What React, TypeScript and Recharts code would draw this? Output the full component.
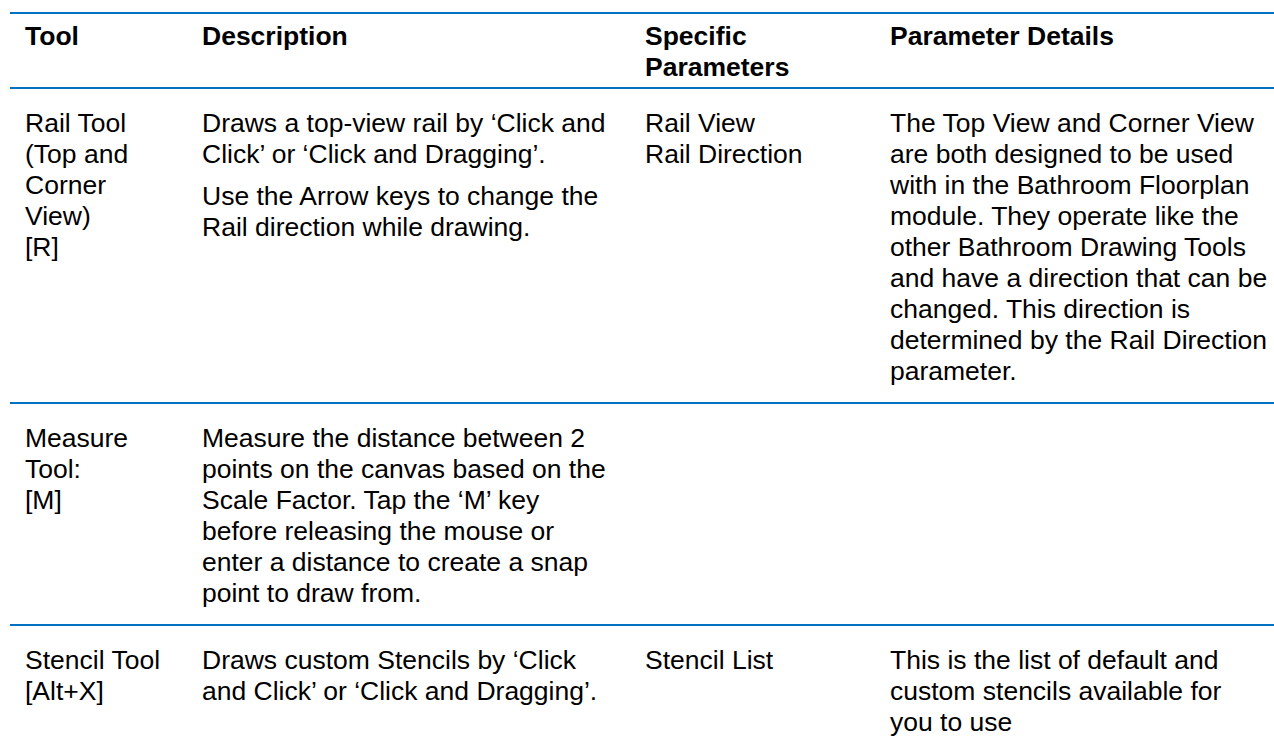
import React from "react";
import { ScatterChart, Scatter, XAxis, YAxis, ReferenceLine } from "recharts";

// table content, one entry per row; each cell is a list of paragraphs, each paragraph a list of lines
const headerCells = [["Tool"], ["Description"], ["Specific", "Parameters"], ["Parameter Details"]];

const toolCells = [
  [["Rail Tool", "(Top and", "Corner", "View)", "[R]"]],
  [["Measure", "Tool:", "[M]"]],
  [["Stencil Tool", "[Alt+X]"]],
];

const descriptionCells = [
  [
    ["Draws a top-view rail by \u2018Click and", "Click\u2019 or \u2018Click and Dragging\u2019."],
    ["Use the Arrow keys to change the", "Rail direction while drawing."],
  ],
  [
    [
      "Measure the distance between 2",
      "points on the canvas based on the",
      "Scale Factor. Tap the \u2018M\u2019 key",
      "before releasing the mouse or",
      "enter a distance to create a snap",
      "point to draw from.",
    ],
  ],
  [["Draws custom Stencils by \u2018Click", "and Click\u2019 or \u2018Click and Dragging\u2019."]],
];

const parameterCells = [[["Rail View", "Rail Direction"]], [], [["Stencil List"]]];

const detailCells = [
  [
    [
      "The Top View and Corner View",
      "are both designed to be used",
      "with in the Bathroom Floorplan",
      "module. They operate like the",
      "other Bathroom Drawing Tools",
      "and have a direction that can be",
      "changed. This direction is",
      "determined by the Rail Direction",
      "parameter.",
    ],
  ],
  [],
  [["This is the list of default and", "custom stencils available for", "you to use"]],
];

const W = 1274;
const H = 749;
const colX = [25, 202, 645, 890];
const lineH = 31;
const paraGap = 11;
const ruleColor = "#0070C0";
const font = "'Liberation Sans', Arial, Helvetica, sans-serif";

type Pt = { x: number; y: number; text: string; bold: boolean };

function cellPoints(paras: string[][], col: number, first: number, bold: boolean, out: Pt[]) {
  let y = first;
  let last = first;
  paras.forEach((lines, pi) => {
    if (pi > 0) y += paraGap;
    lines.forEach((text) => {
      out.push({ x: colX[col], y, text, bold });
      last = y;
      y += lineH;
    });
  });
  return last - first;
}

const textPoints: Pt[] = [];
const rules: number[] = [13, 88];

headerCells.forEach((lines, c) => cellPoints([lines], c, 45, true, textPoints));

let top = 88;
toolCells.forEach((_, r) => {
  const first = top + 44;
  const spans = [toolCells[r], descriptionCells[r], parameterCells[r], detailCells[r]].map((cell, c) =>
    cellPoints(cell, c, first, false, textPoints)
  );
  top = first + Math.max(...spans) + 23;
  rules.push(top);
});

const TextMark = (props: any) => (
  <text
    x={props.cx}
    y={props.cy}
    fontFamily={font}
    fontSize={26.5}
    fontWeight={props.payload.bold ? 700 : 400}
    fill="#000"
  >
    {props.payload.text}
  </text>
);

export default function App() {
  return (
    <div style={{ position: "absolute", left: 0, top: 0, width: W, height: H, background: "#fff" }}>
      <ScatterChart width={W} height={H} margin={{ top: 0, right: 0, bottom: 0, left: 0 }}>
        <XAxis type="number" dataKey="x" domain={[0, W]} allowDataOverflow hide />
        <YAxis type="number" dataKey="y" domain={[0, H]} allowDataOverflow reversed hide />
        {rules
          .filter((y) => y < H)
          .map((y) => (
            <ReferenceLine
              key={y}
              segment={[
                { x: 10, y },
                { x: W, y },
              ]}
              stroke={ruleColor}
              strokeWidth={2}
            />
          ))}
        <Scatter data={textPoints} isAnimationActive={false} shape={TextMark} />
      </ScatterChart>
    </div>
  );
}
